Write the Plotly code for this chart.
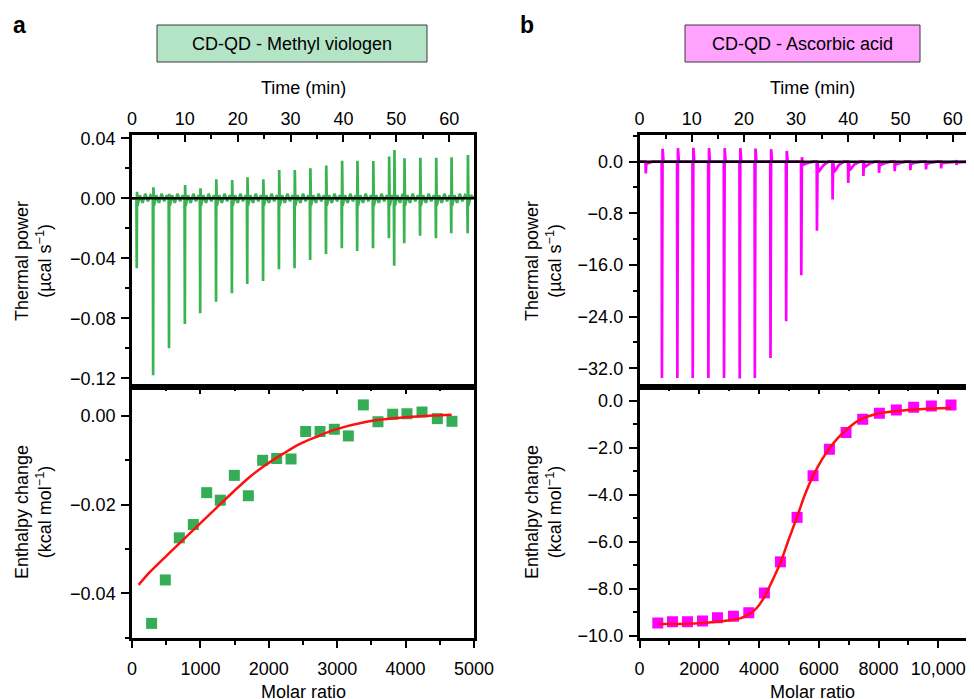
import plotly.graph_objects as go

# the page body keeps its default 8px margin, so the figure is laid out 8px in
OFF = 8
W, H = 974 - OFF, 699 - OFF

# ---------------- panel a : CD-QD - Methyl viologen ----------------
# thermogram: injection times (min), downward / upward spike heights (ucal/s)
a_inj_t = [0.9, 4.0, 7.0, 10.0, 12.9, 15.9, 18.9, 21.8, 24.8, 27.8, 30.75, 33.7, 36.7,
           39.7, 42.6, 45.6, 48.6, 49.6, 51.5, 54.5, 57.5, 60.4, 63.5]
a_inj_neg = [-0.0467, -0.118, -0.100, -0.0838, -0.0767, -0.0689, -0.0633, -0.0571, -0.0551,
             -0.0473, -0.0467, -0.0411, -0.0371, -0.0333, -0.0351, -0.0333, -0.0267, -0.0449,
             -0.0300, -0.0249, -0.0267, -0.0233, -0.0233]
a_inj_pos = [0.0044, 0.0073, 0.0030, 0.0089, 0.0067, 0.0127, 0.0122, 0.0140, 0.0127, 0.0189,
             0.0189, 0.0200, 0.0218, 0.0251, 0.0251, 0.0249, 0.0278, 0.0322, 0.0267, 0.0271,
             0.0271, 0.0273, 0.0289]
# baseline wiggle after each injection (offset in min, value)
a_ripple_dt = [0.15, 0.6, 1.1, 1.6, 2.1, 2.6]
a_ripple_val = [-0.005, 0.002, -0.003, 0.003, -0.002, 0.002]

# integrated heats
a_ratio = [287, 487, 692, 897, 1092, 1291, 1496, 1701, 1910, 2115, 2325, 2539, 2749, 2958,
           3163, 3382, 3596, 3811, 4020, 4240, 4464, 4678]
a_dh = [-0.0468, -0.0370, -0.0275, -0.0245, -0.0173, -0.0190, -0.0134, -0.0180, -0.0100,
        -0.0096, -0.0097, -0.0035, -0.0035, -0.0030, -0.0045, 0.0025, -0.0013, 0.0004,
        0.0005, 0.0009, -0.0006, -0.0012]
a_fit_x = [97, 263, 507, 750, 994, 1238, 1481, 1725, 1969, 2212, 2456, 2700, 2943, 3431,
           3918, 4405, 4673]
a_fit_y = [-0.0381, -0.0352, -0.0315, -0.0279, -0.0243, -0.0207, -0.0171, -0.0137, -0.0109,
           -0.0085, -0.0063, -0.0047, -0.0032, -0.0013, -0.0004, 0.0001, 0.0003]

# ---------------- panel b : CD-QD - Ascorbic acid ----------------
b_inj_t = [1.2, 4.3, 7.25, 10.2, 13.2, 16.2, 19.2, 22.1, 25.1, 28.1, 31.0, 34.0, 37.0, 40.0,
           42.9, 45.9, 48.9, 51.9, 54.9, 57.8, 60.75]
b_inj_neg = [-1.83, -33.5, -33.5, -33.5, -33.5, -33.5, -33.6, -33.5, -30.4, -24.7, -17.6,
             -10.7, -5.86, -3.29, -2.20, -1.73, -1.46, -1.31, -1.20, -1.05, -0.52]
b_inj_pos = [0.0, 1.99, 2.09, 2.14, 2.09, 2.09, 2.09, 2.04, 1.93, 1.67, 0.68, 0.0, 0.0, 0.0,
             0.0, 0.0, 0.0, 0.0, 0.0, 0.0, 0.0]
b_tail_1 = [-0.3, 0.0, 0.0, 0.0, 0.0, 0.0, 0.0, 0.0, 0.0, 0.0, -0.5, -1.6, -1.6, -1.3, -0.8,
            -0.5, -0.4, -0.3, -0.3, -0.2, -0.1]
b_tail_2 = [0.0, 0.0, 0.0, 0.0, 0.0, 0.0, 0.0, 0.0, 0.0, 0.0, -0.2, -0.6, -0.5, -0.4, -0.3,
            -0.2, -0.15, -0.1, -0.1, -0.1, 0.0]

b_ratio = [613, 1104, 1605, 2107, 2609, 3144, 3657, 4181, 4716, 5273, 5808, 6355, 6912, 7469,
           8027, 8595, 9175, 9766, 10424]
b_dh = [-9.45, -9.39, -9.39, -9.36, -9.22, -9.16, -9.01, -8.17, -6.85, -4.96, -3.19, -2.07,
        -1.35, -0.79, -0.54, -0.40, -0.28, -0.23, -0.18]
b_fit_x = [635, 1695, 2809, 3367, 3701, 3924, 4181, 4426, 4716, 4983, 5273, 5530, 5797, 6098,
           6355, 6656, 6912, 7269, 7826, 8383, 8941, 9498, 10424]
b_fit_y = [-9.49, -9.48, -9.36, -9.25, -9.05, -8.81, -8.34, -7.70, -6.89, -5.93, -4.94, -4.01,
           -3.23, -2.52, -2.03, -1.56, -1.25, -0.89, -0.60, -0.47, -0.40, -0.35, -0.31]
b_thermo_ticks = [0, -8, -16, -24, -32]
b_thermo_ticktext = ["0.0", "\u22120.8", "\u221216.0", "\u221224.0", "\u221232.0"]
b_ratio_ticks = [0, 2000, 4000, 6000, 8000, 10000]
b_ratio_ticktext = ["0", "2000", "4000", "6000", "8000", "10,000"]

GREEN = "#3ab44e"
GREEN_MK = "#35ad55"
MAGENTA = "#ff00ff"
RED = "#ff1010"
FONT = "Liberation Sans, Arial, Helvetica, sans-serif"
FS = 18


def px_x(p):
    return (p - OFF) / W


def px_y(p):
    return 1 - (p - OFF) / H


def a_trace_points():
    xs, ys = [0.0], [0.0]
    for i, t in enumerate(a_inj_t):
        xs += [t - 0.06, t, t + 0.05]
        ys += [0.0, a_inj_neg[i], a_inj_pos[i]]
        nxt = a_inj_t[i + 1] if i + 1 < len(a_inj_t) else 64.7
        for dt, v in zip(a_ripple_dt, a_ripple_val):
            if t + dt < nxt - 0.15:
                xs.append(t + dt)
                ys.append(v)
    xs.append(64.7)
    ys.append(0.0)
    return xs, ys


def b_trace_points():
    xs, ys = [0.0], [0.0]
    for i, t in enumerate(b_inj_t):
        xs += [t - 0.05, t, t + 0.12, t + 0.3, t + 1.2, t + 2.2]
        ys += [0.0, b_inj_neg[i], b_inj_pos[i], b_tail_1[i], b_tail_2[i], 0.0]
    xs.append(63.9)
    ys.append(0.0)
    return xs, ys


fig = go.Figure()

ax, ay = a_trace_points()
fig.add_trace(go.Scatter(x=ax, y=ay, mode="lines", line=dict(color=GREEN, width=2.7),
                         xaxis="x", yaxis="y", showlegend=False))
fig.add_trace(go.Scatter(x=a_ratio, y=a_dh, mode="markers",
                         marker=dict(symbol="square", size=11, color=GREEN_MK),
                         xaxis="x2", yaxis="y2", showlegend=False))
fig.add_trace(go.Scatter(x=a_fit_x, y=a_fit_y, mode="lines",
                         line=dict(color=RED, width=2.5, shape="spline", smoothing=0.8),
                         xaxis="x2", yaxis="y2", showlegend=False))

bx, by = b_trace_points()
fig.add_trace(go.Scatter(x=bx, y=by, mode="lines", line=dict(color=MAGENTA, width=2.7),
                         xaxis="x3", yaxis="y3", showlegend=False))
fig.add_trace(go.Scatter(x=b_ratio, y=b_dh, mode="markers",
                         marker=dict(symbol="square", size=11, color=MAGENTA),
                         xaxis="x4", yaxis="y4", showlegend=False))
fig.add_trace(go.Scatter(x=b_fit_x, y=b_fit_y, mode="lines",
                         line=dict(color=RED, width=2.5, shape="spline", smoothing=0.8),
                         xaxis="x4", yaxis="y4", showlegend=False))

# dummy traces so the extra tick-only axes get drawn
fig.add_trace(go.Scatter(x=[None], y=[None], xaxis="x5", yaxis="y2", showlegend=False))
fig.add_trace(go.Scatter(x=[None], y=[None], xaxis="x6", yaxis="y4", showlegend=False))

dom_a = [px_x(132), px_x(474)]
dom_b = [px_x(639.5), px_x(973)]
dom_top = [px_y(387), px_y(135)]
dom_bot = [px_y(638), px_y(387)]

base = dict(showline=True, linecolor="black", linewidth=2.5, mirror=True, showgrid=False,
            zeroline=False, tickcolor="black", tickwidth=2, automargin=False,
            tickfont=dict(family=FONT, size=FS, color="black"))


def minor(dt, ticks, ln=4):
    return dict(ticks=ticks, ticklen=ln, tickwidth=2, tickcolor="black", dtick=dt, tick0=0,
                showgrid=False)


fig.update_layout(
    width=W, height=H,
    margin=dict(l=0, r=0, t=0, b=0),
    paper_bgcolor="white", plot_bgcolor="white",
    showlegend=False,
    xaxis=dict(base, domain=dom_a, anchor="y", side="top", range=[0, 64.7],
               dtick=10, tick0=0, ticks="inside", ticklen=7, minor=minor(5, "inside")),
    yaxis=dict(base, domain=dom_top, anchor="x", range=[-0.1258, 0.0422],
               dtick=0.04, tick0=0, tickformat=".2f", ticks="outside", ticklen=8,
               ticklabelstandoff=2, minor=minor(0.02, "outside")),
    xaxis2=dict(base, domain=dom_a, anchor="y2", range=[0, 5000], dtick=1000, tick0=0,
                ticks="outside", ticklen=7, ticklabelstandoff=6,
                minor=minor(500, "outside")),
    yaxis2=dict(base, domain=dom_bot, anchor="x2", range=[-0.0501, 0.00654],
                dtick=0.02, tick0=0, tickformat=".2f", ticks="outside", ticklen=8,
                ticklabelstandoff=2, minor=minor(0.01, "outside")),
    xaxis3=dict(base, domain=dom_b, anchor="y3", side="top", range=[0, 63.9],
                dtick=10, tick0=0, ticks="inside", ticklen=7, minor=minor(5, "inside")),
    yaxis3=dict(base, domain=dom_top, anchor="x3", range=[-34.9, 4.13],
                tickmode="array", tickvals=b_thermo_ticks, ticktext=b_thermo_ticktext,
                ticks="outside", ticklen=8, ticklabelstandoff=2,
                minor=dict(minor(4, "outside"), tickmode="linear")),
    xaxis4=dict(base, domain=dom_b, anchor="y4", range=[0, 11160], tickmode="array",
                tickvals=b_ratio_ticks, ticktext=b_ratio_ticktext,
                ticks="outside", ticklen=7, ticklabelstandoff=6,
                minor=dict(minor(1000, "outside"), tickmode="linear")),
    yaxis4=dict(base, domain=dom_bot, anchor="x4", range=[-10.085, 0.58],
                dtick=2, tick0=0, tickformat=".1f", ticks="outside", ticklen=8,
                ticklabelstandoff=2, minor=minor(1, "outside")),
    # tick-only axes along the top edge of the lower panels
    xaxis5=dict(overlaying="x2", anchor="y2", side="top", range=[0, 5000], dtick=1000,
                tick0=0, ticks="inside", ticklen=7, tickwidth=2, tickcolor="black",
                showticklabels=False, showline=False, showgrid=False, zeroline=False,
                minor=minor(500, "inside")),
    xaxis6=dict(overlaying="x4", anchor="y4", side="top", range=[0, 11160], dtick=2000,
                tick0=0, ticks="inside", ticklen=7, tickwidth=2, tickcolor="black",
                showticklabels=False, showline=False, showgrid=False, zeroline=False,
                minor=minor(1000, "inside")),
)

# zero reference lines on the thermograms
for xr, yr in (("x", "y"), ("x3", "y3")):
    fig.add_shape(type="line", xref=xr + " domain", yref=yr, x0=0, x1=1, y0=0, y1=0,
                  line=dict(color="black", width=2.5), layer="above")

# title boxes
fig.add_shape(type="rect", xref="paper", yref="paper", x0=px_x(157), x1=px_x(427),
              y0=px_y(62), y1=px_y(25), fillcolor="#b4e4c6",
              line=dict(color="#3a3a3a", width=1))
fig.add_shape(type="rect", xref="paper", yref="paper", x0=px_x(685), x1=px_x(920),
              y0=px_y(62), y1=px_y(25), fillcolor="#ffa3ff",
              line=dict(color="#3a3a3a", width=1))

ann = []


def text(x, y, s, size=FS, bold=False, angle=0):
    ann.append(dict(x=px_x(x), y=px_y(y), xref="paper", yref="paper", text=s,
                    showarrow=False, textangle=angle, xanchor="center", yanchor="middle",
                    font=dict(family=FONT, size=size, color="black",
                              weight="bold" if bold else "normal")))


text(19, 25, "a", size=23, bold=True)
text(527, 25, "b", size=23, bold=True)
text(292, 44, "CD-QD - Methyl viologen")
text(802, 44, "CD-QD - Ascorbic acid")
text(303, 88, "Time (min)")
text(812, 88, "Time (min)")
text(303, 692, "Molar ratio")
text(812, 692, "Molar ratio")
text(33, 261, "Thermal power<br>(\u00b5cal s<sup>\u22121</sup>)", angle=-90)
text(543, 261, "Thermal power<br>(\u00b5cal s<sup>\u22121</sup>)", angle=-90)
text(33, 512, "Enthalpy change<br>(kcal mol<sup>\u22121</sup>)", angle=-90)
text(543, 512, "Enthalpy change<br>(kcal mol<sup>\u22121</sup>)", angle=-90)
fig.update_layout(annotations=ann)

fig.write_html("out.html")
